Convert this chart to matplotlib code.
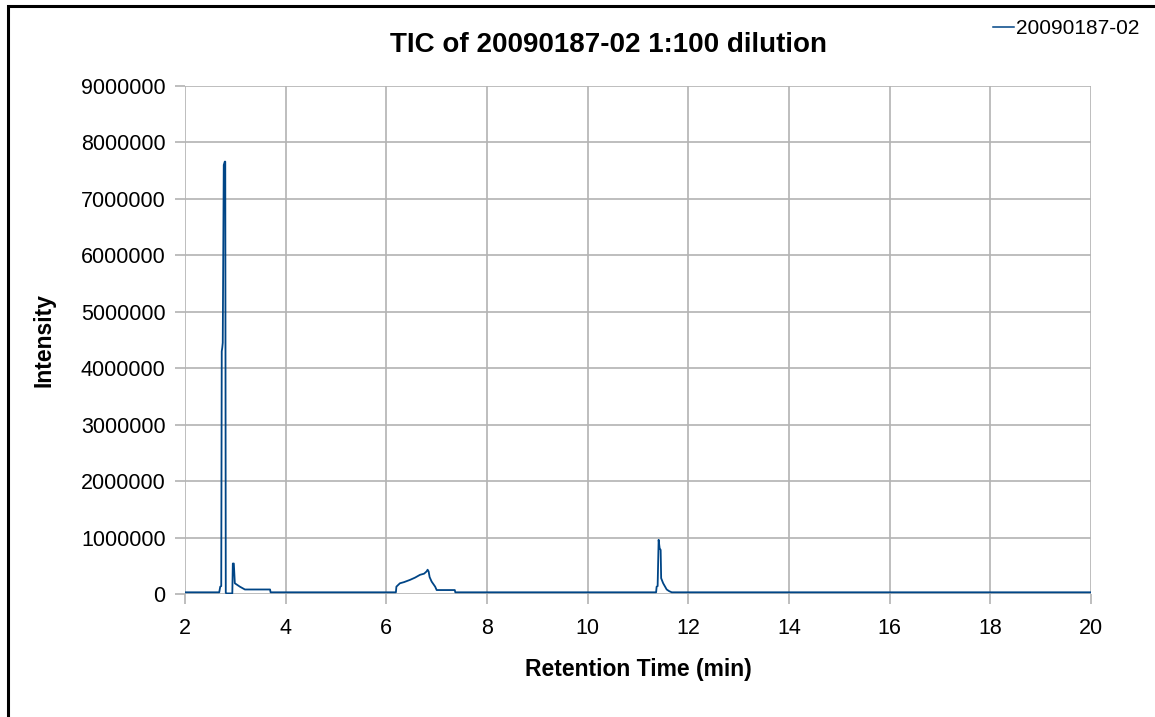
import matplotlib
matplotlib.use("Agg")
import matplotlib.pyplot as plt
from matplotlib.patches import Rectangle

# chromatogram (retention time in min, intensity in counts)
time = [2.00, 2.68, 2.70, 2.72, 2.73, 2.74, 2.75, 2.77, 2.79, 2.80, 2.81, 2.83,
        2.94, 2.95, 2.97, 2.99, 3.09, 3.19, 3.69, 3.70,
        6.19, 6.20, 6.27, 6.35, 6.47, 6.57, 6.67, 6.75, 6.80, 6.82, 6.84,
        6.86, 6.90, 6.97, 7.00, 7.36, 7.37,
        11.36, 11.37, 11.39, 11.41, 11.43, 11.45, 11.46, 11.50, 11.57, 11.62, 11.67,
        20.00]
intensity = [30000, 30000, 130000, 140000, 4300000, 4360000, 4450000, 7600000,
             7660000, 7660000, 20000, 10000,
             10000, 540000, 540000, 190000, 130000, 80000, 80000, 30000,
             30000, 130000, 190000, 210000, 250000, 290000, 340000, 360000,
             400000, 430000, 400000, 300000, 220000, 130000, 70000, 70000, 30000,
             30000, 130000, 140000, 960000, 810000, 780000, 280000, 190000,
             80000, 50000, 30000,
             30000]

series_name = "20090187-02"
x_ticks = [2, 4, 6, 8, 10, 12, 14, 16, 18, 20]
y_ticks = [0, 1000000, 2000000, 3000000, 4000000, 5000000, 6000000,
           7000000, 8000000, 9000000]

plt.rcParams["font.family"] = ["Liberation Sans", "DejaVu Sans"]

fig = plt.figure(figsize=(11.55, 7.17), dpi=100)
ax = fig.add_axes([185 / 1155, 1 - 594 / 717, 906 / 1155, 508 / 717])

ax.plot(time, intensity, color="#004586", linewidth=1.3, label=series_name)

ax.set_xlim(2, 20)
ax.set_ylim(0, 9000000)
ax.set_xticks(x_ticks)
ax.set_yticks(y_ticks)
ax.set_xticklabels([str(t) for t in x_ticks])
ax.set_yticklabels([str(t) for t in y_ticks])
ax.tick_params(labelsize=15.5, length=7, color="#b3b3b3", width=1.2)
ax.tick_params(axis="y", pad=7)
ax.tick_params(axis="x", pad=10)

ax.grid(True, color="#b3b3b3", linewidth=1.2)
ax.set_axisbelow(True)
for s in ax.spines.values():
    s.set_visible(False)

ax.set_xlabel("Retention Time (min)", fontsize=16.5, fontweight="bold", labelpad=14)
ax.set_ylabel("Intensity", fontsize=16.5, fontweight="bold", labelpad=18)

fig.text(609 / 1155, 1 - 45 / 717, "TIC of 20090187-02 1:100 dilution",
         fontsize=20, fontweight="bold", ha="center", va="center")

leg = fig.legend(loc="center right", bbox_to_anchor=(1139 / 1155, 1 - 29 / 717),
                 frameon=False, fontsize=15, handlelength=1.0, handletextpad=0.1,
                 borderpad=0, borderaxespad=0)
for h in leg.get_lines():
    h.set_linewidth(1.1)

# page border of the original chart
fig.patches.append(Rectangle((8 / 1155, -0.1), 1.2, 1 - 6 / 717 + 0.1,
                             transform=fig.transFigure, fill=False,
                             edgecolor="black", linewidth=2.2))

fig.savefig("out.png", dpi=100)
